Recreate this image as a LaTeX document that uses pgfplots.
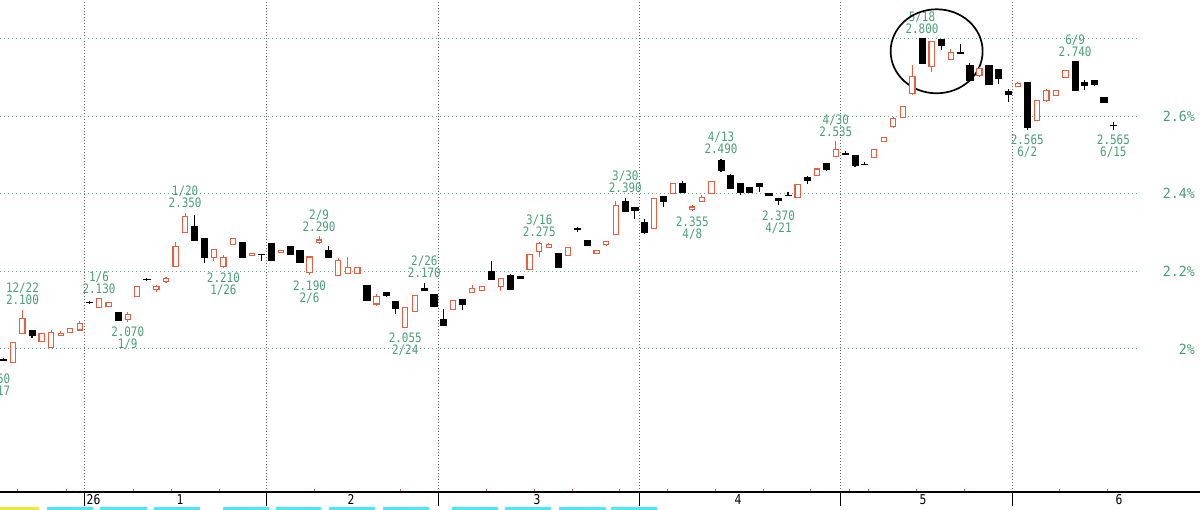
\documentclass[border=0pt]{standalone}
\usepackage{fontspec}
\usepackage{pgfplots}
\usepackage{pgfplotstable}
\pgfplotsset{compat=1.18}
\newfontfamily\labfont[FakeStretch=0.84]{DejaVu Sans Mono}
\newfontfamily\axfont[FakeStretch=0.95]{DejaVu Sans Mono}
\definecolor{labgreen}{RGB}{72,160,118}
\definecolor{candred}{RGB}{238,92,62}
\definecolor{hgrid}{RGB}{110,165,150}
\definecolor{vgrid}{RGB}{105,105,105}
\definecolor{baseline}{RGB}{110,110,110}
\definecolor{tabcyan}{RGB}{80,230,248}
\definecolor{tabyellow}{RGB}{238,232,60}
\pgfdeclareplotmark{blank}{}

% up (red, hollow) candles: trading-day index, open, high, low, close
\pgfplotstableread{
i O H L C
1 1.966 2.017 1.966 2.017
2 2.039 2.100 2.039 2.078
4 2.019 2.039 2.019 2.039
5 2.004 2.049 2.004 2.043
6 2.034 2.047 2.034 2.040
7 2.043 2.053 2.043 2.053
8 2.049 2.073 2.049 2.065
10 2.106 2.130 2.106 2.130
11 2.110 2.120 2.110 2.120
13 2.076 2.095 2.070 2.089
14 2.135 2.161 2.135 2.161
16 2.154 2.165 2.146 2.161
17 2.174 2.185 2.171 2.181
18 2.213 2.276 2.213 2.265
19 2.300 2.350 2.300 2.341
22 2.235 2.256 2.228 2.256
23 2.213 2.241 2.210 2.235
24 2.270 2.284 2.270 2.284
26 2.240 2.247 2.240 2.247
29 2.249 2.255 2.249 2.255
32 2.198 2.237 2.190 2.237
33 2.275 2.290 2.270 2.281
35 2.190 2.234 2.190 2.228
36 2.194 2.237 2.194 2.209
37 2.194 2.212 2.194 2.209
39 2.116 2.141 2.111 2.136
42 2.055 2.107 2.055 2.107
43 2.096 2.138 2.096 2.138
47 2.102 2.126 2.102 2.126
49 2.146 2.164 2.146 2.156
50 2.150 2.162 2.150 2.162
52 2.160 2.181 2.150 2.181
55 2.204 2.243 2.204 2.243
56 2.251 2.275 2.238 2.272
57 2.262 2.274 2.262 2.270
59 2.241 2.262 2.241 2.262
62 2.247 2.253 2.247 2.253
63 2.270 2.277 2.266 2.277
64 2.295 2.381 2.295 2.370
68 2.311 2.390 2.311 2.387
70 2.400 2.426 2.400 2.426
72 2.359 2.370 2.355 2.366
73 2.381 2.398 2.381 2.391
74 2.400 2.431 2.400 2.431
83 2.391 2.424 2.391 2.424
85 2.447 2.464 2.447 2.464
87 2.495 2.535 2.495 2.513
91 2.494 2.515 2.494 2.515
92 2.535 2.546 2.535 2.546
93 2.573 2.599 2.570 2.593
94 2.596 2.625 2.596 2.625
95 2.658 2.731 2.654 2.703
97 2.727 2.792 2.714 2.792
99 2.746 2.772 2.746 2.763
102 2.705 2.727 2.700 2.723
106 2.677 2.688 2.677 2.684
108 2.589 2.641 2.589 2.641
109 2.641 2.671 2.636 2.667
110 2.654 2.667 2.654 2.667
111 2.699 2.717 2.699 2.717
}\upcandles

% down (black, filled) candles and crosses
\pgfplotstableread{
i O H L C
0 1.972 1.978 1.970 1.970
3 2.047 2.047 2.028 2.034
9 2.121 2.124 2.116 2.120
12 2.095 2.095 2.073 2.073
15 2.180 2.184 2.175 2.179
20 2.315 2.345 2.280 2.280
21 2.284 2.284 2.222 2.235
25 2.276 2.276 2.235 2.235
27 2.245 2.245 2.228 2.243
28 2.271 2.271 2.228 2.228
30 2.265 2.265 2.245 2.245
31 2.255 2.255 2.224 2.224
34 2.255 2.266 2.237 2.237
38 2.165 2.165 2.126 2.126
40 2.145 2.145 2.135 2.139
41 2.122 2.122 2.089 2.105
44 2.156 2.170 2.150 2.150
45 2.140 2.140 2.111 2.111
46 2.075 2.102 2.060 2.060
48 2.128 2.128 2.100 2.116
51 2.200 2.226 2.179 2.179
53 2.190 2.192 2.154 2.154
54 2.187 2.187 2.181 2.181
58 2.247 2.247 2.210 2.210
60 2.310 2.315 2.302 2.309
61 2.281 2.281 2.266 2.266
65 2.381 2.390 2.355 2.355
66 2.364 2.364 2.336 2.356
67 2.325 2.336 2.297 2.300
69 2.393 2.393 2.366 2.381
71 2.427 2.432 2.404 2.404
75 2.485 2.490 2.455 2.461
76 2.447 2.451 2.415 2.415
77 2.426 2.426 2.396 2.404
78 2.417 2.417 2.403 2.403
79 2.426 2.426 2.404 2.419
80 2.402 2.402 2.396 2.396
81 2.387 2.387 2.370 2.383
82 2.397 2.404 2.396 2.396
84 2.443 2.447 2.426 2.434
86 2.478 2.478 2.458 2.464
88 2.503 2.511 2.501 2.501
89 2.498 2.498 2.470 2.474
90 2.477 2.482 2.476 2.476
96 2.800 2.800 2.736 2.736
98 2.797 2.797 2.770 2.782
100 2.765 2.787 2.763 2.763
101 2.731 2.736 2.691 2.691
103 2.731 2.731 2.682 2.682
104 2.720 2.720 2.682 2.697
105 2.665 2.671 2.636 2.656
107 2.688 2.688 2.565 2.570
112 2.740 2.740 2.667 2.667
113 2.688 2.694 2.668 2.680
114 2.692 2.692 2.677 2.682
115 2.649 2.649 2.636 2.636
116 2.577 2.584 2.565 2.576
}\downcandles

\tikzset{
  hilab/.style={labgreen, font=\labfont\fontsize{13}{12}\selectfont, align=center, anchor=south, inner sep=0pt, yshift=5pt},
  lolab/.style={labgreen, font=\labfont\fontsize{13}{12}\selectfont, align=center, anchor=north, inner sep=0pt, yshift=-5pt},
  monlab/.style={black, font=\labfont\fontsize{13.5}{13.5}\selectfont, inner sep=0pt},
}

\begin{document}
\begin{tikzpicture}[x=1pt,y=1pt]
\useasboundingbox (0,-18) rectangle (1200,492);
\begin{axis}[
  at={(0,0)}, anchor=south west,
  scale only axis, width=1140pt, height=492pt,
  xmin=-0.345, xmax=118.78,
  ymin=1.631443, ymax=2.899485,
  axis line style={draw=none},
  xtick={8.5,27.5,45.5,66.5,87.5,105.5},
  xticklabels={},
  xtick pos=left, xtick align=outside,
  major tick length=14pt,
  xtick style={black, line width=1pt},
  ytick={2,2.2,2.4,2.6,2.8},
  yticklabels={2\%,2.2\%,2.4\%,2.6\%,{}},
  yticklabel pos=right,
  ytick style={draw=none},
  yticklabel style={anchor=east, inner sep=0pt, xshift=55pt, text=labgreen, font=\axfont\fontsize{14}{14}\selectfont},
  xmajorgrids, ymajorgrids,
  x grid style={vgrid, line width=1pt, dash pattern=on 1pt off 2pt},
  y grid style={hgrid, line width=1pt, dash pattern=on 1pt off 3pt},
  clip=false,
]
% red (up) candles
\addplot[scatter, only marks, mark=blank,
  visualization depends on={388*(\thisrow{O}-\thisrow{L}) \as \dO},
  visualization depends on={388*(\thisrow{H}-\thisrow{L}) \as \dH},
  visualization depends on={388*(\thisrow{C}-\thisrow{L}) \as \dC},
  scatter/@pre marker code/.code={%
    \pgfmathsetmacro\ddO{\dO}%
    \pgfmathsetmacro\ddC{\dC}%
    \pgfmathsetmacro\ddH{\dH}%
    \draw[candred, line width=1.1pt] (0pt,0pt) -- (0pt,\ddO pt);
    \draw[candred, line width=1.1pt] (0pt,\ddC pt) -- (0pt,\ddH pt);
    \filldraw[draw=candred, fill=white, line width=1.1pt] (-2.6pt,\ddO pt) rectangle (2.6pt,\ddC pt);
  },
  scatter/@post marker code/.code={},
] table[x=i, y=L] {\upcandles};
% black (down) candles
\addplot[scatter, only marks, mark=blank,
  visualization depends on={388*(\thisrow{O}-\thisrow{L}) \as \dO},
  visualization depends on={388*(\thisrow{H}-\thisrow{L}) \as \dH},
  visualization depends on={388*(\thisrow{C}-\thisrow{L}) \as \dC},
  scatter/@pre marker code/.code={%
    \pgfmathsetmacro\ddO{\dO}%
    \pgfmathsetmacro\ddC{\dC}%
    \pgfmathsetmacro\ddH{\dH}%
    \draw[black, line width=1.1pt] (0pt,0pt) -- (0pt,\ddH pt);
    \filldraw[black, line width=0.8pt] (-3.1pt,\ddC pt) rectangle (3.1pt,\ddO pt);
  },
  scatter/@post marker code/.code={},
] table[x=i, y=L] {\downcandles};

% high / low annotations
\node[lolab] at (axis cs:-1,1.950) {1.950\\12/17};
\node[hilab] at (axis cs:2,2.100) {12/22\\2.100};
\node[hilab] at (axis cs:10,2.130) {1/6\\2.130};
\node[lolab] at (axis cs:13,2.070) {2.070\\1/9};
\node[hilab] at (axis cs:19,2.350) {1/20\\2.350};
\node[lolab] at (axis cs:23,2.210) {2.210\\1/26};
\node[lolab] at (axis cs:32,2.190) {2.190\\2/6};
\node[hilab] at (axis cs:33,2.290) {2/9\\2.290};
\node[lolab] at (axis cs:42,2.055) {2.055\\2/24};
\node[hilab] at (axis cs:44,2.170) {2/26\\2.170};
\node[hilab] at (axis cs:56,2.275) {3/16\\2.275};
\node[hilab] at (axis cs:65,2.390) {3/30\\2.390};
\node[lolab] at (axis cs:72,2.355) {2.355\\4/8};
\node[hilab] at (axis cs:75,2.490) {4/13\\2.490};
\node[lolab] at (axis cs:81,2.370) {2.370\\4/21};
\node[hilab] at (axis cs:87,2.535) {4/30\\2.535};
\node[hilab] at (axis cs:96,2.800) {5/18\\2.800};
\node[lolab] at (axis cs:107,2.565) {2.565\\6/2};
\node[hilab] at (axis cs:112,2.740) {6/9\\2.740};
\node[lolab] at (axis cs:116,2.565) {2.565\\6/15};

% circled area
\draw[black, line width=1.7pt] (axis cs:97.53,2.7673) ellipse [x radius=46pt, y radius=42pt];
\end{axis}

% baseline of the time axis
\draw[baseline, line width=1.4pt] (0,0) -- (1200,0);
\foreach \x in {17,66,133,171,219,314,400,486,534,572,619,667,715,763,810,849,868,916,964,1059,1107}
  \draw[candred, line width=0.8pt] (\x,0.7) -- (\x,2.6);
% month labels
\node[monlab, anchor=base west] at (86.5,-13) {26};
\node[monlab, anchor=base] at (180,-13) {1};
\node[monlab, anchor=base] at (351,-13) {2};
\node[monlab, anchor=base] at (537,-13) {3};
\node[monlab, anchor=base] at (738,-13) {4};
\node[monlab, anchor=base] at (923,-13) {5};
\node[monlab, anchor=base] at (1119,-13) {6};
% tabs at the bottom edge
\fill[tabyellow] (0,-18) rectangle (39,-15);
\foreach \a/\b in {47/93,100/147,154/200,223/269,276/321,329/375,383/429,452/498,505/551,559/606,611/657}
  \fill[tabcyan] (\a,-18) rectangle (\b,-15);
\end{tikzpicture}
\end{document}
